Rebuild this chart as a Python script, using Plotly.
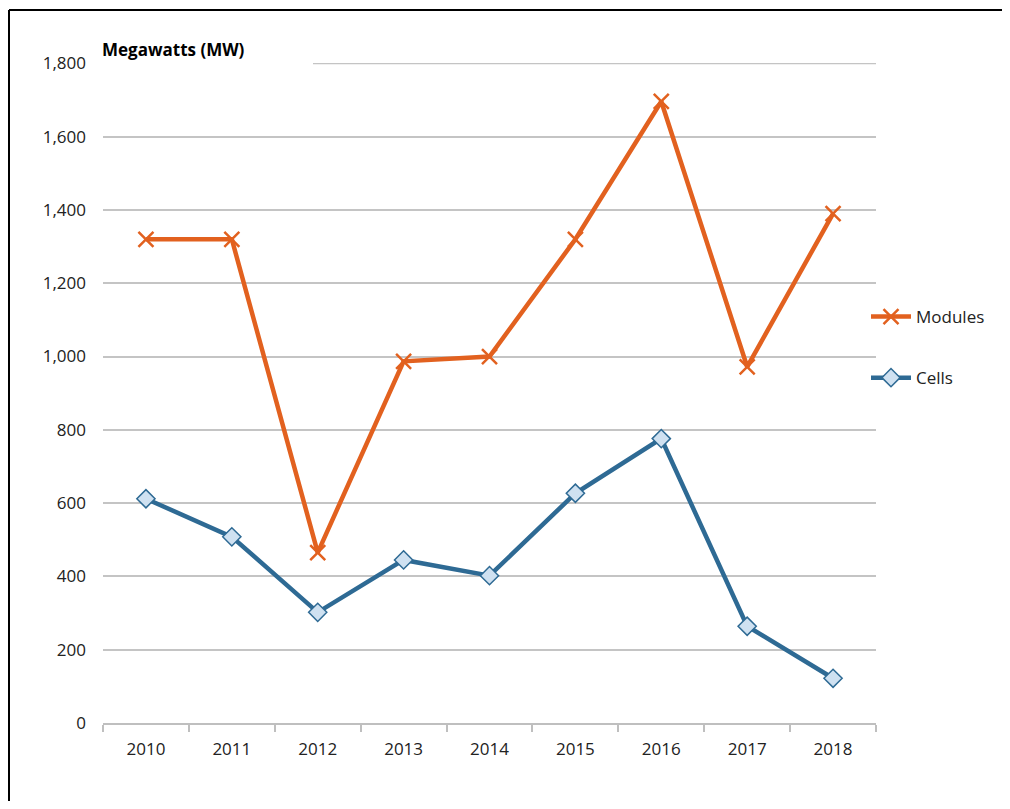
import plotly.graph_objects as plotgr

years = ["2010", "2011", "2012", "2013", "2014", "2015", "2016", "2017", "2018"]
modules = [1320, 1320, 465, 987, 1000, 1320, 1696, 972, 1390]
cells = [612, 508, 302, 445, 402, 627, 776, 264, 122]
y_ticks = [0, 200, 400, 600, 800, 1000, 1200, 1400, 1600, 1800]

orange = '#E2611F'
blue = '#2E6A94'

# page has an 8px body margin, so the figure is a bit smaller than the window
OFF = 8
W, H = 994, 793
L, T = 103 - OFF, 63 - OFF
R = W - (876 - OFF)
B = H - (723 - OFF)
pw, ph = W - L - R, H - T - B


def px_x(p):
    return (p - OFF - L) / pw


def px_y(p):
    return (H - B - (p - OFF)) / ph


fig = plotgr.Figure()
fig.add_trace(plotgr.Scatter(
    x=years, y=modules, name='Modules', mode='lines+markers',
    line=dict(color=orange, width=4.5),
    marker=dict(symbol='x-thin', size=15, line=dict(color=orange, width=2.5)),
    legendgroup='a',
))
fig.add_trace(plotgr.Scatter(
    x=years, y=cells, name='Cells', mode='lines+markers',
    line=dict(color=blue, width=4.5),
    marker=dict(symbol='diamond', size=14, color='#CFE1F1',
                line=dict(color=blue, width=1.5)),
    legendgroup='b',
))

frame = dict(color='black', width=2)
fig.update_layout(
    width=W, height=H,
    margin=dict(l=L, r=R, t=T, b=B),
    font_family="Open Sans",
    paper_bgcolor='white',
    plot_bgcolor='white',
    showlegend=True,
    legend=dict(x=px_x(866), y=px_y(299), xanchor='left', yanchor='top',
                font=dict(size=17, color='#222222'), tracegroupgap=36,
                traceorder='grouped', itemwidth=40, bgcolor='rgba(0,0,0,0)'),
    annotations=[dict(text='<b>Megawatts (MW)</b>', xref='paper', yref='paper',
                      x=px_x(100), y=px_y(49), xanchor='left', yanchor='middle',
                      showarrow=False, bgcolor='white', width=208, align='left',
                      height=36, valign='middle', font=dict(size=17, color='black'))],
    shapes=[
        # top gridline (plotly drops the one sitting on the plot edge)
        dict(type='line', xref='paper', yref='y', x0=px_x(313), x1=1, y0=1800, y1=1800,
             line=dict(color='#C4C4C4', width=2), layer='below'),
        # outer frame: left and top edges
        dict(type='line', xref='paper', yref='paper', x0=px_x(9), x1=px_x(9),
             y0=px_y(10), y1=px_y(840), line=frame, layer='above'),
        dict(type='line', xref='paper', yref='paper', x0=px_x(9), x1=px_x(1040),
             y0=px_y(10), y1=px_y(10), line=frame, layer='above'),
    ],
)

fig.update_xaxes(
    type='category', showgrid=False, showline=True, linecolor='#BFBFBF', linewidth=2,
    ticks='outside', tickcolor='#BFBFBF', ticklen=7, tickwidth=2,
    tickson='boundaries', tickfont=dict(size=17, color='#222222'),
    ticklabelstandoff=10, range=[-0.5, 8.5],
)
fig.update_yaxes(
    range=[0, 1801], tickvals=y_ticks, tickformat=',', showgrid=True,
    gridcolor='#C4C4C4', gridwidth=2, zeroline=False, showline=False,
    tickfont=dict(size=17, color='#222222'), ticks='', ticklabelstandoff=16,
)

fig.write_html("out.html")
